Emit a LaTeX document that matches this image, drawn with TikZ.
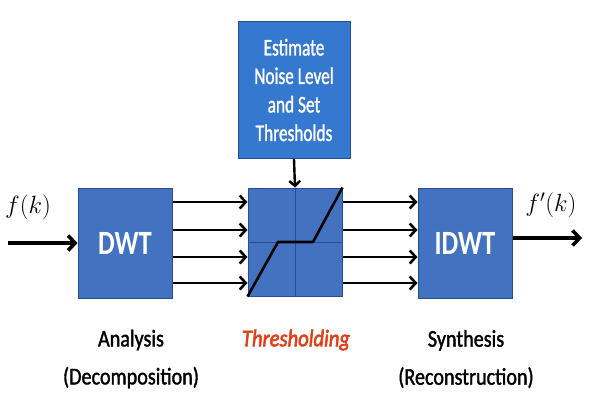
\documentclass[tikz,border=0pt]{standalone}
\usepackage{fontspec}
\setmainfont{Carlito}
\newfontfamily\condfont[FakeStretch=0.78]{Carlito}
\newfontfamily\estfont[FakeStretch=0.72,FakeBold=1.2]{Carlito}
\newfontfamily\labfont[FakeStretch=0.84,FakeBold=1.4]{Carlito}
\newfontfamily\thfont[FakeStretch=0.86,FakeBold=2.2]{Carlito}
\usetikzlibrary{arrows.meta}
\definecolor{boxblue}{RGB}{66,114,192}
\definecolor{boxedge}{RGB}{40,78,145}
\definecolor{estblue}{RGB}{52,120,208}
\definecolor{thred}{RGB}{226,62,20}
\begin{document}
\begin{tikzpicture}[x=1pt,y=-1pt,
  blk/.style={draw=boxedge,fill=boxblue,line width=1pt,inner sep=0pt,text=white},
  arr/.style={-{Straight Barb[length=6pt,width=13pt]},line width=2.6pt},
  bigarr/.style={-{Straight Barb[length=7pt,width=15pt]},line width=3.6pt},
  lab/.style={font=\labfont\fontsize{24}{38}\selectfont,align=center}]
\useasboundingbox (0,0) rectangle (600,400);
\fill[white] (0,0) rectangle (600,400);
% boxes
\node[blk,minimum width=94pt,minimum height=110pt,font=\condfont\bfseries\fontsize{34}{34}\selectfont] (dwt) at (125,243) {DWT};
\node[blk,minimum width=94pt,minimum height=108pt] (th) at (295,242) {};
\node[blk,minimum width=94pt,minimum height=110pt,font=\condfont\bfseries\fontsize{34}{34}\selectfont] (idwt) at (465,243) {IDWT};
\node[blk,fill=estblue,minimum width=112pt,minimum height=137pt,align=center,font=\estfont\fontsize{24}{28.5}\selectfont] (est) at (294,90) {Estimate\\Noise Level\\and Set\\Thresholds};
% threshold internals
\draw[boxedge,line width=0.8pt] (th.north) -- (th.south);
\draw[boxedge,line width=0.8pt] (th.west) -- (th.east);
\coordinate (k1) at (278,242);
\coordinate (k2) at (313,242);
\draw[line width=2.6pt,line join=round] (th.south west) -- (k1) -- (k2) -- (th.north east);
% connectors
\draw[line width=2.4pt,-{Straight Barb[length=5pt,width=11pt]}] (est.south) -- (th.north);
\foreach \yy in {202,230,257,283}{
  \draw[arr] (dwt.east |- 0,\yy) -- (th.west |- 0,\yy);
  \draw[arr] (th.east |- 0,\yy) -- (idwt.west |- 0,\yy);
}
\coordinate (in) at (8,243);
\coordinate (out) at (582,238);
\draw[bigarr] (in) -- (dwt.west);
\draw[bigarr] (idwt.east |- out) -- (out);
% labels
\node (fk) at (28,207) {\fontsize{24}{24}\selectfont$f(k)$};
\node (fpk) at (551,205) {\fontsize{24}{24}\selectfont$f'(k)$};
\node[lab] (an) at (131,359) {Analysis\\(Decomposition)};
\node[lab,text=thred,font=\thfont\itshape\fontsize{24}{38}\selectfont] (thl) at (296,340) {Thresholding};
\node[lab] (sy) at (466,359) {Synthesis\\(Reconstruction)};
\end{tikzpicture}
\end{document}
